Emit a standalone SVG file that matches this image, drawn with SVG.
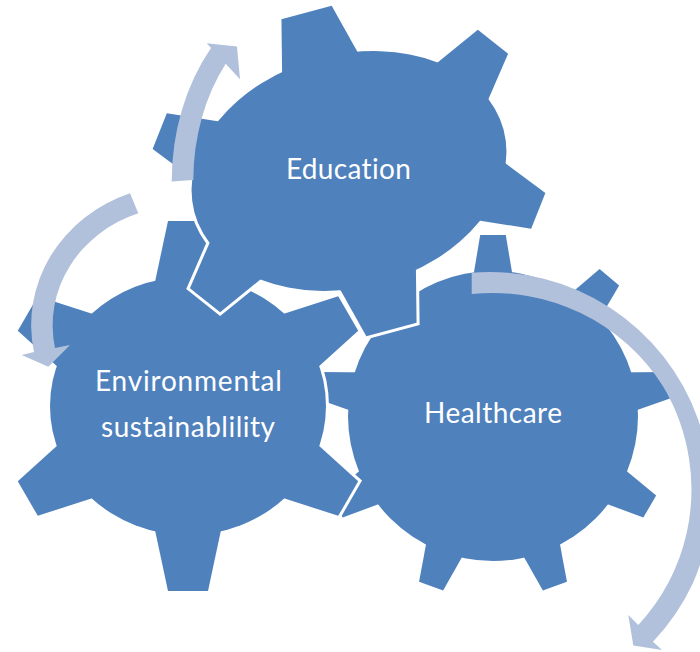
<svg xmlns="http://www.w3.org/2000/svg" xmlns:xlink="http://www.w3.org/1999/xlink" width="700" height="652" viewBox="0 0 700 652">
  <style>
    .halo { fill: #ffffff; stroke: #ffffff; stroke-width: 6; stroke-linejoin: miter; }
    .gear { fill: #4F81BD; }
    .label { fill: #ffffff; font-family: Lato, "Open Sans", "Liberation Sans", sans-serif; font-size: 28px; text-anchor: middle; font-variant-ligatures: none; font-feature-settings: "liga" 0; }
    .arrow { fill: #B1C1DC; }
  </style>
  <defs>
    <polygon id="tooth9" points="-23,-120 -12.8,-181 12.8,-181 23,-120"/>
    <polygon id="tooth6" points="-36,-110 -20,-185 20,-185 36,-110"/>
    <g id="hc-shape">
      <circle r="145"/>
      <use href="#tooth9"/>
      <use href="#tooth9" transform="rotate(40)"/>
      <use href="#tooth9" transform="rotate(80)"/>
      <use href="#tooth9" transform="rotate(120)"/>
      <use href="#tooth9" transform="rotate(160)"/>
      <use href="#tooth9" transform="rotate(200)"/>
      <use href="#tooth9" transform="rotate(240)"/>
      <use href="#tooth9" transform="rotate(280)"/>
      <use href="#tooth9" transform="rotate(320)"/>
    </g>
    <g id="env-shape">
      <ellipse rx="138" ry="129"/>
      <use href="#tooth6"/>
      <use href="#tooth6" transform="rotate(60)"/>
      <use href="#tooth6" transform="rotate(120)"/>
      <use href="#tooth6" transform="rotate(180)"/>
      <use href="#tooth6" transform="rotate(240)"/>
      <use href="#tooth6" transform="rotate(300)"/>
    </g>
    <g id="edu-shape">
      <ellipse rx="160" ry="116.5"/>
      <polygon points="-39,-113 -26,-164 26,-164 39,-113 0,0"/>
      <polygon points="39,113 26,164 -26,164 -39,113 0,0"/>
      <polygon points="114,-82 161,-103 184,-72 153,-33 0,0"/>
      <polygon points="153,33 184,72 161,103 114,82 0,0"/>
      <polygon points="-114,82 -161,103 -184,72 -153,33 0,0"/>
      <polygon points="-153,-33 -184,-72 -161,-103 -114,-82 0,0"/>
    </g>
  </defs>

  <g id="healthcare">
    <use href="#hc-shape" class="halo" transform="translate(493,416)"/>
    <use href="#hc-shape" class="gear" transform="translate(493,416)"/>
    <text class="label" x="493" y="422.7" textLength="138">Healthcare</text>
  </g>

  <g id="environmental">
    <use href="#env-shape" class="halo" transform="translate(188,406)"/>
    <use href="#env-shape" class="gear" transform="translate(188,406)"/>
    <text class="label" x="188.4" y="390.7" textLength="187">Environmental</text>
    <text class="label" x="188" y="436.7" textLength="174">sustainablility</text>
  </g>

  <g id="education">
    <use href="#edu-shape" class="halo" transform="translate(349,171) rotate(-15)"/>
    <use href="#edu-shape" class="gear" transform="translate(349,171) rotate(-15)"/>
    <text class="label" x="348.4" y="179.3" textLength="125">Education</text>
  </g>

  <g id="connectors">
    <path class="arrow" d="M171.7,181.5 A162,204 0 0 1 211,48 L206.7,43.3 L237,46.5 L240,79.3 L225.7,63.8 A141,183 0 0 0 193.3,180 Z"/>
    <path class="arrow" d="M130,193.3 A150,140 0 0 0 34,352 L21.7,355 L48.3,366.7 L70,345 L55,348 A129,119 0 0 1 138.3,213.3 Z"/>
    <path class="arrow" d="M471.7,272.7 A221,221 0 0 1 698.3,420 A221,221 0 0 1 693,583 A221,221 0 0 1 653,641.7 L662,650 L633.3,645.5 L628.3,615 L638.3,625 A202,202 0 0 0 686.7,533 A202,202 0 0 0 663.3,386.7 A202,202 0 0 0 471.7,294 Z"/>
  </g>
</svg>
